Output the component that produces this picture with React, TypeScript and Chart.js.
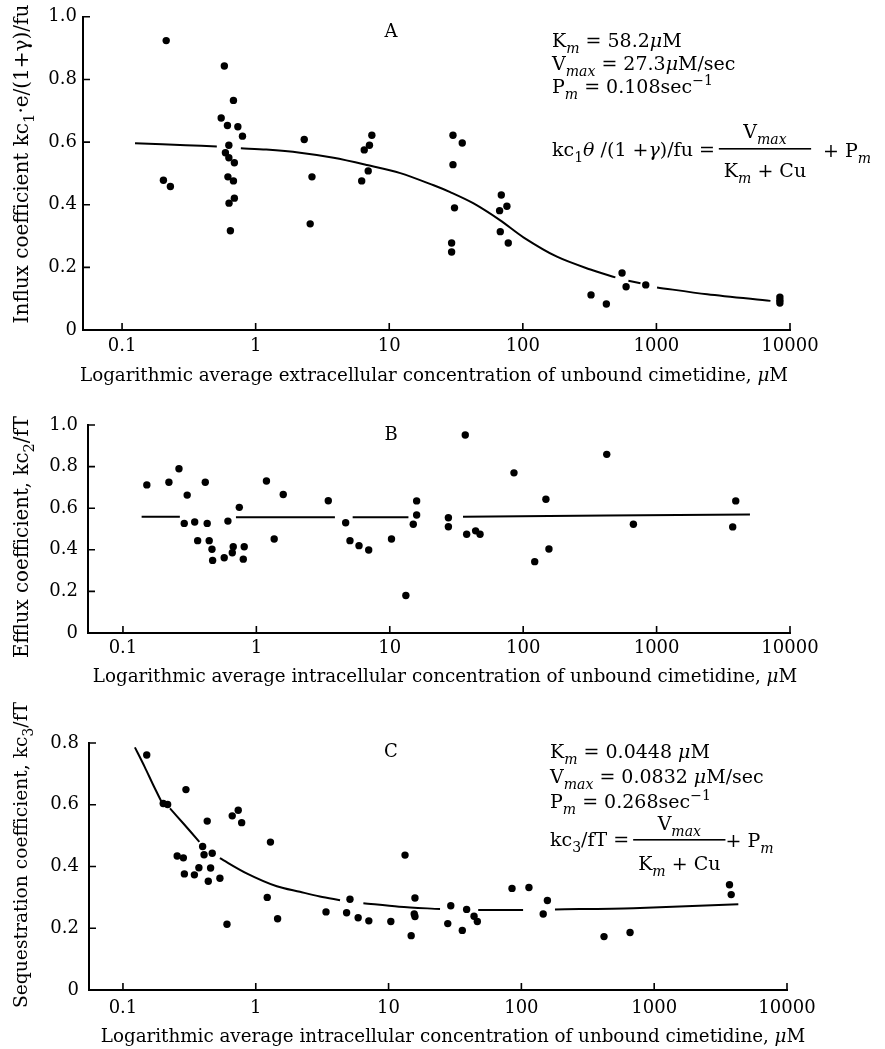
import React, { useEffect, useRef } from 'react';
import { Chart, registerables } from 'chart.js';

Chart.register(...registerables);

const SERIF = '"DejaVu Serif", "Liberation Serif", serif';

// ---------- shared axis ticks ----------
const xTicks = [0.1, 1, 10, 100, 1000, 10000];
const xTickLabels = ['0.1', '1', '10', '100', '1000', '10000'];
const yTicks10 = [0, 0.2, 0.4, 0.6, 0.8, 1.0];
const yTickLabels10 = ['0', '0.2', '0.4', '0.6', '0.8', '1.0'];
const yTicks08 = [0, 0.2, 0.4, 0.6, 0.8];
const yTickLabels08 = ['0', '0.2', '0.4', '0.6', '0.8'];

// ---------- Panel A: influx ----------
const influxX = [0.214, 0.204, 0.23, 0.583, 0.552, 0.615, 0.682, 0.736, 0.797, 0.63, 0.594, 0.63, 0.693, 0.62, 0.682, 0.693, 0.632, 0.647, 2.31, 2.64, 2.56, 7.41, 7.11, 6.5, 6.96, 6.22, 30, 35.2, 30, 30.8, 29.3, 29.3, 69, 76, 67, 67.8, 77.8, 553, 593, 832, 324, 422, 8400, 8400, 8400];
const influxY = [0.924, 0.478, 0.458, 0.843, 0.677, 0.653, 0.733, 0.649, 0.619, 0.59, 0.566, 0.55, 0.534, 0.489, 0.476, 0.421, 0.405, 0.317, 0.608, 0.489, 0.339, 0.622, 0.59, 0.575, 0.508, 0.476, 0.622, 0.597, 0.528, 0.39, 0.278, 0.249, 0.431, 0.395, 0.381, 0.314, 0.278, 0.182, 0.138, 0.144, 0.112, 0.083, 0.105, 0.095, 0.086];
// fitted curve (null = break in the drawn line)
const influxFitX = [0.125, 0.2, 0.3, 0.512, 0.6, 0.775, 1.2, 2.15, 3.83, 6.8, 12.1, 21.5, 28.6, 42.8, 67.8, 101, 180, 321, 493, 560, 617, 760, 880, 1011, 2400, 7140];
const influxFitY = [0.596, 0.593, 0.59, 0.586, null, 0.58, 0.576, 0.566, 0.55, 0.527, 0.501, 0.462, 0.44, 0.404, 0.35, 0.296, 0.234, 0.193, 0.168, null, 0.157, 0.149, null, 0.136, 0.114, 0.093];

// ---------- Panel B: efflux ----------
const effluxX = [0.151, 0.221, 0.263, 0.303, 0.288, 0.345, 0.363, 0.414, 0.428, 0.443, 0.465, 0.47, 0.574, 0.612, 0.671, 0.66, 0.745, 0.811, 0.798, 1.19, 1.36, 1.59, 3.46, 4.67, 5.03, 5.88, 6.95, 10.3, 13.2, 15.9, 15.9, 15.0, 27.5, 27.5, 36.8, 37.7, 44, 47.5, 85.3, 122, 148, 156, 423, 670, 3920, 3720];
const effluxY = [0.712, 0.725, 0.79, 0.663, 0.527, 0.534, 0.444, 0.725, 0.527, 0.444, 0.403, 0.349, 0.362, 0.538, 0.415, 0.386, 0.604, 0.415, 0.355, 0.731, 0.452, 0.666, 0.636, 0.53, 0.444, 0.42, 0.399, 0.452, 0.18, 0.635, 0.567, 0.523, 0.554, 0.511, 0.952, 0.475, 0.491, 0.475, 0.77, 0.343, 0.643, 0.404, 0.859, 0.523, 0.635, 0.51];
const effluxFitX = [0.138, 0.267, 0.4, 0.703, 3.88, 4.5, 5.27, 13.8, 20, 35.4, 5010];
const effluxFitY = [0.559, 0.559, null, 0.556, 0.556, null, 0.556, 0.556, null, 0.559, 0.57];

// ---------- Panel C: sequestration ----------
const seqX = [0.151, 0.298, 0.201, 0.217, 0.431, 0.665, 0.738, 0.783, 1.29, 0.398, 0.408, 0.47, 0.256, 0.285, 0.373, 0.457, 0.29, 0.345, 0.439, 0.537, 0.607, 1.22, 1.46, 3.38, 4.83, 5.12, 5.9, 7.1, 10.4, 13.3, 15.8, 15.6, 15.8, 14.8, 29.4, 27.9, 38.7, 35.9, 44, 46.6, 85, 114, 157, 146, 419, 658, 3690, 3800];
const seqY = [0.761, 0.649, 0.604, 0.601, 0.547, 0.564, 0.582, 0.542, 0.479, 0.465, 0.438, 0.443, 0.434, 0.428, 0.396, 0.395, 0.376, 0.373, 0.352, 0.362, 0.213, 0.30, 0.231, 0.253, 0.25, 0.294, 0.234, 0.224, 0.222, 0.437, 0.298, 0.246, 0.238, 0.176, 0.273, 0.215, 0.261, 0.193, 0.239, 0.222, 0.329, 0.332, 0.29, 0.246, 0.173, 0.186, 0.341, 0.309];
const seqFitX = [0.123, 0.146, 0.169, 0.195, 0.21, 0.226, 0.284, 0.376, 0.45, 0.537, 0.853, 1.44, 2.15, 3.04, 4.31, 5.3, 6.46, 12, 24.4, 34, 47.3, 103, 135, 179, 697, 4300];
const seqFitY = [0.786, 0.722, 0.664, 0.61, null, 0.588, 0.54, 0.48, null, 0.427, 0.378, 0.336, 0.318, 0.303, 0.291, null, 0.281, 0.27, 0.262, null, 0.259, 0.259, null, 0.261, 0.265, 0.278];

// ---------- text ----------
type Seg = [string, string?];
const titleA: Seg[] = [['Influx coefficient kc'], ['1', 'sub'], ['·e/(1+γ)/fu']];
const titleB: Seg[] = [['Efflux coefficient, kc'], ['2', 'sub'], ['/fT']];
const titleC: Seg[] = [['Sequestration coefficient, kc'], ['3', 'sub'], ['/fT']];
const xTitleA: Seg[] = [['Logarithmic average extracellular concentration of unbound cimetidine, '], ['μ', 'it'], ['M']];
const xTitleIntra: Seg[] = [['Logarithmic average intracellular concentration of unbound cimetidine, '], ['μ', 'it'], ['M']];

const paramsA: Seg[][] = [
  [['K'], ['m', 'isub'], [' = 58.2'], ['μ', 'it'], ['M']],
  [['V'], ['max', 'isub'], [' = 27.3'], ['μ', 'it'], ['M/sec']],
  [['P'], ['m', 'isub'], [' = 0.108sec'], ['−1', 'sup']],
];
const eqLeftA: Seg[] = [['kc'], ['1', 'sub'], ['θ', 'it'], [' /(1 +'], ['γ', 'it'], [')/fu =']];
const paramsC: Seg[][] = [
  [['K'], ['m', 'isub'], [' = 0.0448 '], ['μ', 'it'], ['M']],
  [['V'], ['max', 'isub'], [' = 0.0832 '], ['μ', 'it'], ['M/sec']],
  [['P'], ['m', 'isub'], [' = 0.268sec'], ['−1', 'sup']],
];
const eqLeftC: Seg[] = [['kc'], ['3', 'sub'], ['/fT =']];
const eqNum: Seg[] = [['V'], ['max', 'isub']];
const eqDen: Seg[] = [['K'], ['m', 'isub'], [' + Cu']];
const eqTail: Seg[] = [['+ P'], ['m', 'isub']];

function segFont(size: number, k?: string) {
  const small = k === 'sub' || k === 'isub' || k === 'sup';
  const s = small ? size * 0.74 : size;
  const it = k === 'isub' || k === 'it' ? 'italic ' : '';
  return `${it}${s}px ${SERIF}`;
}
function richWidth(ctx: CanvasRenderingContext2D, segs: Seg[], size: number) {
  let w = 0;
  for (const [t, k] of segs) { ctx.font = segFont(size, k); w += ctx.measureText(t).width; }
  return w;
}
function drawRich(ctx: CanvasRenderingContext2D, segs: Seg[], x: number, y: number, size: number) {
  let cx = x;
  ctx.textAlign = 'left';
  ctx.textBaseline = 'alphabetic';
  ctx.fillStyle = '#000';
  for (const [t, k] of segs) {
    ctx.font = segFont(size, k);
    const dy = k === 'sub' || k === 'isub' ? size * 0.3 : k === 'sup' ? -size * 0.4 : 0;
    ctx.fillText(t, cx, y + dy);
    cx += ctx.measureText(t).width;
  }
  return cx - x;
}
function drawRotated(ctx: CanvasRenderingContext2D, segs: Seg[], bx: number, cy: number, size: number) {
  ctx.save();
  ctx.translate(bx, cy);
  ctx.rotate(-Math.PI / 2);
  const w = richWidth(ctx, segs, size);
  drawRich(ctx, segs, -w / 2, 0, size);
  ctx.restore();
}
function drawCentered(ctx: CanvasRenderingContext2D, segs: Seg[], cx: number, y: number, size: number) {
  const w = richWidth(ctx, segs, size);
  drawRich(ctx, segs, cx - w / 2, y, size);
}
function drawEquation(ctx: CanvasRenderingContext2D, left: Seg[], x: number, y: number, size: number, barDy: number, numDy: number, denDy: number, tailGap: number) {
  const lw = drawRich(ctx, left, x, y, size);
  const nw = richWidth(ctx, eqNum, size);
  const dw = richWidth(ctx, eqDen, size);
  const barX = x + lw + 4;
  const barW = Math.max(nw, dw) + 10;
  ctx.fillStyle = '#000';
  ctx.fillRect(barX, y - barDy, barW, 1.6);
  drawRich(ctx, eqNum, barX + (barW - nw) / 2, y + numDy, size);
  drawRich(ctx, eqDen, barX + (barW - dw) / 2, y + denDy, size);
  drawRich(ctx, eqTail, barX + barW + tailGap, y + 1, size);
}

type PanelOpts = {
  L: number; T: number; R: number; B: number;
  xMin: number; yMax: number;
  yTicks: number[]; yLabels: string[];
  yPad: number; xPad: number;
  px: number[]; py: number[]; fx: number[]; fy: (number | null)[];
  deco: (ctx: CanvasRenderingContext2D) => void;
};

const W = 885, H = 1049;

function panelConfig(o: PanelOpts): any {
  const tickFont = { family: SERIF, size: 18 };
  return {
    type: 'scatter',
    data: {
      datasets: [
        {
          data: o.fx.map((x, i) => ({ x, y: o.fy[i] })),
          showLine: true,
          pointRadius: 0,
          borderColor: '#000',
          borderWidth: 2,
          spanGaps: false,
          tension: 0.3,
        },
        {
          data: o.px.map((x, i) => ({ x, y: o.py[i] })),
          showLine: false,
          pointRadius: 3.7,
          pointBackgroundColor: '#000',
          pointBorderWidth: 0,
        },
      ],
    },
    options: {
      responsive: false,
      animation: false,
      events: [],
      layout: { padding: { left: 0, top: o.T, right: W - o.R, bottom: 0 } },
      plugins: { legend: { display: false }, tooltip: { enabled: false } },
      scales: {
        x: {
          type: 'logarithmic',
          min: o.xMin,
          max: 10000,
          afterFit: (s: any) => { s.height = H - o.B; },
          afterBuildTicks: (s: any) => { s.ticks = xTicks.map((v) => ({ value: v })); },
          ticks: {
            autoSkip: false,
            maxRotation: 0,
            padding: o.xPad,
            color: '#000',
            font: tickFont,
            callback: (_v: any, i: number) => xTickLabels[i],
          },
          grid: { display: false, drawTicks: false },
          border: { display: true, color: '#000', width: 2 },
        },
        y: {
          type: 'linear',
          min: 0,
          max: o.yMax,
          afterFit: (s: any) => { s.width = o.L; },
          afterBuildTicks: (s: any) => { s.ticks = o.yTicks.map((v) => ({ value: v })); },
          ticks: {
            autoSkip: false,
            padding: o.yPad,
            color: '#000',
            font: tickFont,
            callback: (_v: any, i: number) => o.yLabels[i],
          },
          grid: { display: false, drawTicks: false },
          border: { display: true, color: '#000', width: 2 },
        },
      },
    },
    plugins: [
      {
        id: 'inwardTicksAndText',
        afterDraw(chart: any) {
          const ctx: CanvasRenderingContext2D = chart.ctx;
          const { left, bottom } = chart.chartArea;
          const xs = chart.scales.x, ys = chart.scales.y;
          ctx.save();
          ctx.strokeStyle = '#000';
          ctx.lineWidth = 1.6;
          ctx.beginPath();
          for (const t of xs.ticks) {
            const p = xs.getPixelForValue(t.value);
            ctx.moveTo(p, bottom);
            ctx.lineTo(p, bottom - 7);
          }
          for (const t of ys.ticks) {
            const p = ys.getPixelForValue(t.value);
            ctx.moveTo(left, p);
            ctx.lineTo(left + 7, p);
          }
          ctx.stroke();
          o.deco(ctx);
          ctx.restore();
        },
      },
    ],
  };
}

export default function App() {
  const refA = useRef<HTMLCanvasElement>(null);
  const refB = useRef<HTMLCanvasElement>(null);
  const refC = useRef<HTMLCanvasElement>(null);

  useEffect(() => {
    document.body.style.margin = '0';
    const charts = [
      new Chart(refA.current!, panelConfig({
        L: 83, T: 16, R: 790, B: 330, xMin: 0.051, yMax: 1.0,
        yTicks: yTicks10, yLabels: yTickLabels10, yPad: 6, xPad: 6,
        px: influxX, py: influxY, fx: influxFitX, fy: influxFitY,
        deco: (ctx) => {
          drawRotated(ctx, titleA, 28, 164, 20);
          drawCentered(ctx, xTitleA, 434, 381, 18.3);
          drawCentered(ctx, [['A']], 391, 37, 18);
          paramsA.forEach((segs, i) => drawRich(ctx, segs, 552, 47 + i * 23, 19));
          drawEquation(ctx, eqLeftA, 552, 156, 19, 8, -18, 21, 12);
        },
      })),
      new Chart(refB.current!, panelConfig({
        L: 88, T: 425, R: 790, B: 633, xMin: 0.0547, yMax: 1.0,
        yTicks: yTicks10, yLabels: yTickLabels10, yPad: 10, xPad: 5,
        px: effluxX, py: effluxY, fx: effluxFitX, fy: effluxFitY,
        deco: (ctx) => {
          drawRotated(ctx, titleB, 28, 537, 19.8);
          drawCentered(ctx, xTitleIntra, 445, 682, 18.3);
          drawCentered(ctx, [['B']], 391, 440, 18);
        },
      })),
      new Chart(refC.current!, panelConfig({
        L: 89, T: 743, R: 787, B: 990, xMin: 0.0555, yMax: 0.8,
        yTicks: yTicks08, yLabels: yTickLabels08, yPad: 10, xPad: 8,
        px: seqX, py: seqY, fx: seqFitX, fy: seqFitY,
        deco: (ctx) => {
          drawRotated(ctx, titleC, 27, 855, 18.7);
          drawCentered(ctx, xTitleIntra, 453, 1042, 18.3);
          drawCentered(ctx, [['C']], 391, 757, 18);
          paramsC.forEach((segs, i) => drawRich(ctx, segs, 550, 758 + i * 25, 19));
          drawEquation(ctx, eqLeftC, 550, 846, 19, 7, -16, 24, 0);
        },
      })),
    ];
    return () => charts.forEach((c) => c.destroy());
  }, []);

  const cs: React.CSSProperties = { position: 'absolute', left: 0, top: 0 };
  return (
    <div style={{ position: 'relative', width: W, height: H, background: '#fff', overflow: 'hidden' }}>
      <canvas ref={refA} width={W} height={H} style={cs} />
      <canvas ref={refB} width={W} height={H} style={cs} />
      <canvas ref={refC} width={W} height={H} style={cs} />
    </div>
  );
}
